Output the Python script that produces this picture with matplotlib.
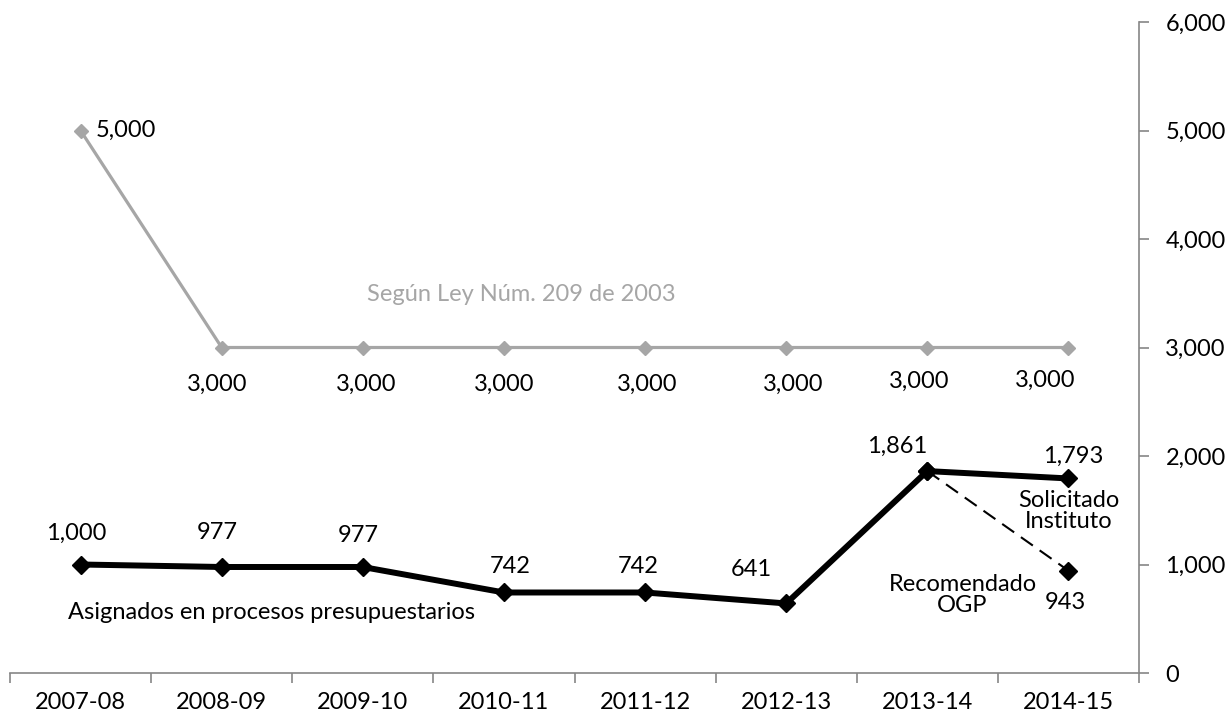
import matplotlib.pyplot as plt
from matplotlib.ticker import FuncFormatter

# ── Data ─────────────────────────────────────────────────────────────────────
years = ["2007-08", "2008-09", "2009-10", "2010-11",
         "2011-12", "2012-13", "2013-14", "2014-15"]
ley_209 = [5000, 3000, 3000, 3000, 3000, 3000, 3000, 3000]
asignados = [1000, 977, 977, 742, 742, 641, 1861, 1793]
recomendado_years = ["2013-14", "2014-15"]
recomendado = [1861, 943]

GRAY = "#A6A6A6"
AXIS_GRAY = "#868686"
FONT = "Lato"
FS = 17

plt.rcParams["font.family"] = [FONT, "DejaVu Sans"]

fig = plt.figure(figsize=(12.27, 7.23), dpi=100)
W, H = 1227, 723
ax = fig.add_axes([10 / W, 50 / H, 1129 / W, 651 / H])

x = list(range(len(years)))
xr = [years.index(y) for y in recomendado_years]

ax.plot(x, ley_209, color=GRAY, lw=2.3, marker="D", ms=7.5, zorder=2)
ax.plot(xr, recomendado, color="black", lw=1.5, ls=(0, (7, 4)),
        marker="D", ms=9, zorder=3)
ax.plot(x, asignados, color="black", lw=4.3, marker="D", ms=9, zorder=4)

ax.set_xlim(-0.5, len(years) - 0.5)
ax.set_ylim(0, 6000)

# axes styling
for s in ["left", "top"]:
    ax.spines[s].set_visible(False)
for s in ["right", "bottom"]:
    ax.spines[s].set_color(AXIS_GRAY)
    ax.spines[s].set_linewidth(1.2)

ax.yaxis.tick_right()
ax.set_yticks(range(0, 6001, 1000))
ax.yaxis.set_major_formatter(FuncFormatter(lambda v, p: f"{int(v):,}"))
ax.tick_params(axis="y", direction="out", length=7, width=1.2,
               color=AXIS_GRAY, labelsize=FS, pad=12)

ax.set_xticks(x)
ax.set_xticklabels(years)
ax.set_xticks([i - 0.5 for i in range(len(years) + 1)], minor=True)
ax.tick_params(axis="x", which="major", length=0, labelsize=FS, pad=14)
ax.tick_params(axis="x", which="minor", direction="out", length=7,
               width=1.2, color=AXIS_GRAY)

# ── Data labels ──────────────────────────────────────────────────────────────
def label(xv, yv, txt, dx, dy, ha="center", color="black"):
    ax.annotate(txt, (xv, yv), xytext=(dx, dy), textcoords="offset pixels",
                ha=ha, va="center", fontsize=FS, color=color)

label(x[0], ley_209[0], f"{ley_209[0]:,}", 15, 0, ha="left")
gray_offsets = [(-5, -37), (3, -37), (0, -37), (2, -37),
                (7, -37), (-8, -34), (-23, -33)]
for i, (dx, dy) in zip(x[1:], gray_offsets):
    label(i, ley_209[i], f"{ley_209[i]:,}", dx, dy)

black_offsets = [(-4, 31), (-4, 34), (-5, 31), (6, 26),
                 (-7, 26), (-35, 34), (-30, 25), (5, 22)]
for i, (dx, dy) in zip(x, black_offsets):
    label(i, asignados[i], f"{asignados[i]:,}", dx, dy)

label(xr[1], recomendado[1], f"{recomendado[1]:,}", -3, -32)

# ── Series annotations ───────────────────────────────────────────────────────
ax.text(3.12, 3484, "Según Ley Núm. 209 de 2003", ha="center", va="center",
        fontsize=FS, color=GRAY)
ax.text(1.35, 562, "Asignados en procesos presupuestarios", ha="center",
        va="center", fontsize=FS)
ax.text(7.0, 1493, "Solicitado\nInstituto", ha="center", va="center",
        fontsize=FS, linespacing=0.95)
ax.text(6.25, 719, "Recomendado\nOGP", ha="center", va="center",
        fontsize=FS, linespacing=0.95)

fig.savefig("out.png", dpi=100)
